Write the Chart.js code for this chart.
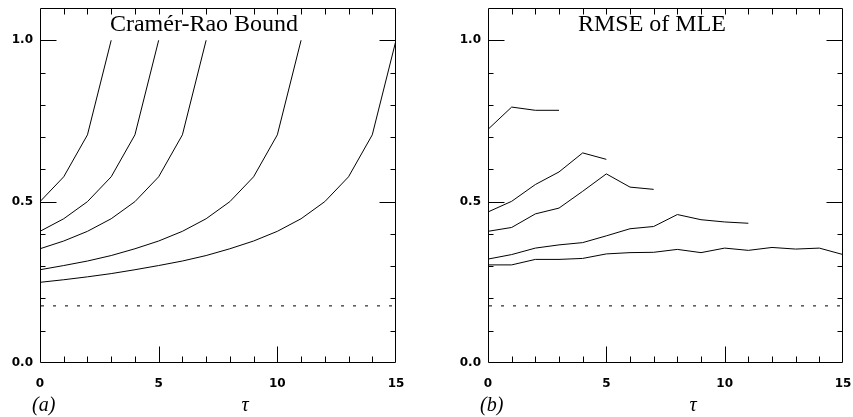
<!DOCTYPE html>
<html>
<head>
<meta charset="utf-8">
<script src="https://cdn.jsdelivr.net/npm/chart.js@4.4.1/dist/chart.umd.min.js"></script>
<style>
    html, body {margin: 0; padding: 0; background: #fff;}
    #wrap {position: relative; width: 853px; height: 417px; overflow: hidden;}
    canvas {position: absolute; top: 0;}
</style>
</head>
<body>
<div id="wrap">
    <canvas id="crb_canvas" width="426" height="417" style="left:0px"></canvas>
    <canvas id="mle_canvas" width="427" height="417" style="left:426px"></canvas>
</div>
<script>
// tau axis and tick labels
const tau_values = [0, 1, 2, 3, 4, 5, 6, 7, 8, 9, 10, 11, 12, 13, 14, 15];
const x_ticks = [0, 5, 10, 15];
const y_ticks = [0.0, 0.5, 1.0];

// (a) Cramer-Rao bound, one curve per sample size
const crb_1 = [0.500, 0.577, 0.707, 1.000];
const crb_2 = [0.408, 0.447, 0.500, 0.577, 0.707, 1.000];
const crb_3 = [0.354, 0.378, 0.408, 0.447, 0.500, 0.577, 0.707, 1.000];
const crb_4 = [0.289, 0.302, 0.316, 0.333, 0.354, 0.378, 0.408, 0.447, 0.500, 0.577, 0.707, 1.000];
const crb_5 = [0.250, 0.258, 0.267, 0.277, 0.289, 0.302, 0.316, 0.333, 0.354, 0.378, 0.408, 0.447, 0.500, 0.577, 0.707, 1.000];

// (b) RMSE of the maximum likelihood estimate
const rmse_1 = [0.724, 0.793, 0.783, 0.783];
const rmse_2 = [0.468, 0.501, 0.553, 0.592, 0.651, 0.631];
const rmse_3 = [0.408, 0.420, 0.462, 0.480, 0.532, 0.586, 0.545, 0.538];
const rmse_4 = [0.322, 0.336, 0.356, 0.366, 0.373, 0.394, 0.416, 0.423, 0.460, 0.444, 0.437, 0.433];
const rmse_5 = [0.304, 0.304, 0.321, 0.321, 0.324, 0.338, 0.342, 0.343, 0.352, 0.342, 0.356, 0.349, 0.358, 0.353, 0.356, 0.336];

// dotted lower limit in both panels
const bound_level = 0.177;

function to_points(values) {
    return values.map((v, i) => ({x: tau_values[i], y: v}));
}

function curve(values) {
    return {
        data: to_points(values),
        borderColor: '#000',
        borderWidth: 1,
        pointRadius: 0,
        tension: 0,
        fill: false
    };
}

function bound_line() {
    return {
        data: [{x: tau_values[0], y: bound_level}, {x: tau_values[tau_values.length - 1], y: bound_level}],
        borderColor: '#000',
        borderWidth: 1,
        borderDash: [3, 9],
        borderDashOffset: -1,
        pointRadius: 0,
        fill: false
    };
}

// box round the plot with inward ticks on all four sides
const frame_plugin = {
    id: 'frame_ticks',
    afterDatasetsDraw(chart) {
        const ctx = chart.ctx;
        const a = chart.chartArea;
        const x = chart.scales.x;
        const y = chart.scales.y;
        const l = Math.round(a.left) + 0.5;
        const r = Math.round(a.right) - 0.5;
        const t = Math.round(a.top) + 0.5;
        const b = Math.round(a.bottom) - 0.5;

        ctx.save();
        ctx.strokeStyle = '#000';
        ctx.lineWidth = 1;
        ctx.beginPath();
        ctx.rect(l, t, r - l, b - t);

        for (let i = 1; i < 15; i++) {
            const px = Math.round(x.getPixelForValue(i)) + 0.5;
            const len = (i % 5 === 0) ? 16 : 6;
            ctx.moveTo(px, b);
            ctx.lineTo(px, b - len);
            ctx.moveTo(px, t);
            ctx.lineTo(px, t + 6);
        }
        for (let i = 1; i <= 10; i++) {
            const py = Math.round(y.getPixelForValue(i / 10)) + 0.5;
            const len = (i % 5 === 0) ? 16 : 5;
            ctx.moveTo(l, py);
            ctx.lineTo(l + len, py);
            ctx.moveTo(r, py);
            ctx.lineTo(r - len, py);
        }
        ctx.stroke();
        ctx.restore();
    }
};

// panel title, panel tag and tau label
const label_plugin = {
    id: 'panel_labels',
    afterDraw(chart, args, opts) {
        const ctx = chart.ctx;
        const a = chart.chartArea;
        ctx.save();
        ctx.fillStyle = '#000';
        ctx.textBaseline = 'alphabetic';

        ctx.font = '24px "Liberation Serif"';
        ctx.textAlign = 'center';
        ctx.fillText(opts.title, a.left + 164, 31);

        ctx.font = 'italic 20px "Liberation Serif"';
        ctx.textAlign = 'left';
        ctx.fillText(opts.tag, a.left - 8, 411);

        ctx.textAlign = 'center';
        ctx.fillText('\u03c4', a.left + 205, 411);
        ctx.restore();
    }
};

const tick_font = {family: '"DejaVu Sans"', size: 12, weight: 'bold'};

function make_config(datasets, title, tag, y_width, right_pad) {
    return {
        type: 'line',
        data: {datasets: datasets},
        options: {
            responsive: false,
            animation: false,
            devicePixelRatio: 1,
            layout: {
                padding: {top: 8, right: right_pad, bottom: 0, left: 0}
            },
            plugins: {
                legend: {display: false},
                tooltip: {enabled: false},
                panel_labels: {title: title, tag: tag}
            },
            scales: {
                x: {
                    type: 'linear',
                    min: 0,
                    max: 15,
                    grid: {display: false, drawTicks: false},
                    border: {display: false},
                    afterBuildTicks: function(scale) {
                        scale.ticks = x_ticks.map(v => ({value: v}));
                    },
                    afterFit: function(scale) {
                        scale.height = 54;
                        scale.paddingLeft = 0;
                        scale.paddingRight = 0;
                    },
                    ticks: {
                        autoSkip: false,
                        maxRotation: 0,
                        padding: 14,
                        color: '#000',
                        font: tick_font,
                        callback: function(value) {return String(value);}
                    }
                },
                y: {
                    type: 'linear',
                    min: 0,
                    max: 1.1,
                    grid: {display: false, drawTicks: false},
                    border: {display: false},
                    afterBuildTicks: function(scale) {
                        scale.ticks = y_ticks.map(v => ({value: v}));
                    },
                    afterFit: function(scale) {
                        scale.width = y_width;
                        scale.paddingTop = 0;
                        scale.paddingBottom = 0;
                    },
                    ticks: {
                        padding: 7,
                        color: '#000',
                        font: tick_font,
                        callback: function(value) {return value.toFixed(1);}
                    }
                }
            }
        },
        plugins: [frame_plugin, label_plugin]
    };
}

const crb_datasets = [crb_1, crb_2, crb_3, crb_4, crb_5].map(curve);
crb_datasets.push(bound_line());

const mle_datasets = [rmse_1, rmse_2, rmse_3, rmse_4, rmse_5].map(curve);
mle_datasets.push(bound_line());

new Chart(
    document.getElementById('crb_canvas'),
    make_config(crb_datasets, 'Cramér-Rao Bound', '(a)', 40, 30)
);

new Chart(
    document.getElementById('mle_canvas'),
    make_config(mle_datasets, 'RMSE of MLE', '(b)', 62, 10)
);
</script>
</body>
</html>
